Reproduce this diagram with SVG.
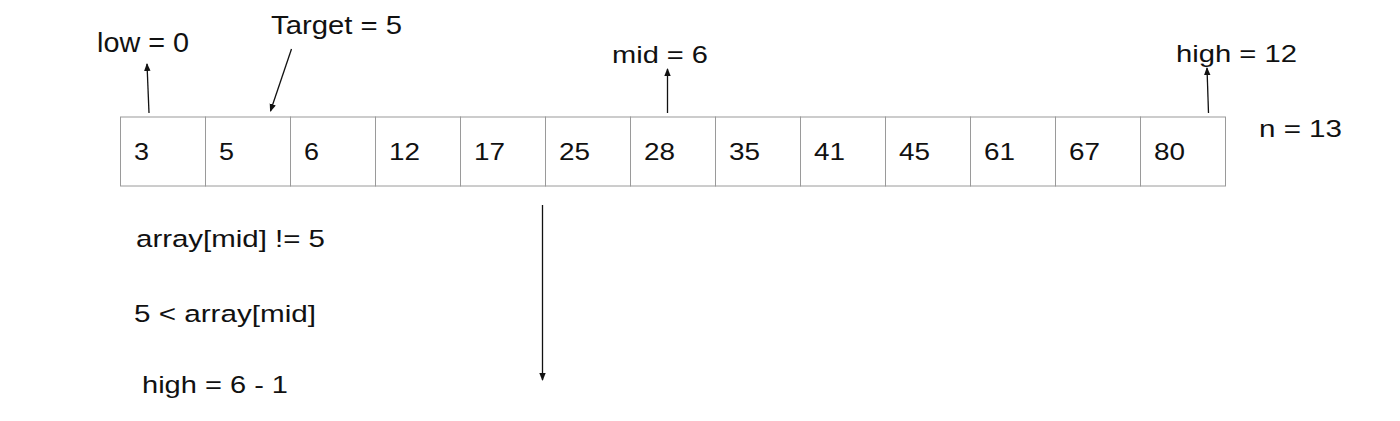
<svg xmlns="http://www.w3.org/2000/svg" width="1400" height="421" viewBox="0 0 1400 421">
<defs>
<style>
text{font-family:"Liberation Sans",Arial,sans-serif;fill:#111}
.cell rect{fill:#fff;stroke:#9a9a9a;stroke-width:1}
.cell text{font-size:24px}
.lbl{font-size:24.5px}
.conn line{stroke:#111;stroke-width:1.3;fill:none}
</style>
<marker id="ah" markerUnits="userSpaceOnUse" markerWidth="8" markerHeight="8" viewBox="0 0 8 8" refX="7" refY="4" orient="auto">
<path d="M0,0.8 L8,4 L0,7.2 Z" fill="#111"/>
</marker>
</defs>
<rect width="1400" height="421" fill="#fff"/>
<g id="array">
<g id="cell0" class="cell"><rect x="120.5" y="117" width="85" height="69"/><text x="134" y="160" textLength="15" lengthAdjust="spacingAndGlyphs">3</text></g>
<g id="cell1" class="cell"><rect x="205.5" y="117" width="85" height="69"/><text x="219" y="160" textLength="15" lengthAdjust="spacingAndGlyphs">5</text></g>
<g id="cell2" class="cell"><rect x="290.5" y="117" width="85" height="69"/><text x="304" y="160" textLength="15" lengthAdjust="spacingAndGlyphs">6</text></g>
<g id="cell3" class="cell"><rect x="375.5" y="117" width="85" height="69"/><text x="389" y="160" textLength="31" lengthAdjust="spacingAndGlyphs">12</text></g>
<g id="cell4" class="cell"><rect x="460.5" y="117" width="85" height="69"/><text x="474" y="160" textLength="31" lengthAdjust="spacingAndGlyphs">17</text></g>
<g id="cell5" class="cell"><rect x="545.5" y="117" width="85" height="69"/><text x="559" y="160" textLength="31" lengthAdjust="spacingAndGlyphs">25</text></g>
<g id="cell6" class="cell"><rect x="630.5" y="117" width="85" height="69"/><text x="644" y="160" textLength="31" lengthAdjust="spacingAndGlyphs">28</text></g>
<g id="cell7" class="cell"><rect x="715.5" y="117" width="85" height="69"/><text x="729" y="160" textLength="31" lengthAdjust="spacingAndGlyphs">35</text></g>
<g id="cell8" class="cell"><rect x="800.5" y="117" width="85" height="69"/><text x="814" y="160" textLength="31" lengthAdjust="spacingAndGlyphs">41</text></g>
<g id="cell9" class="cell"><rect x="885.5" y="117" width="85" height="69"/><text x="899" y="160" textLength="31" lengthAdjust="spacingAndGlyphs">45</text></g>
<g id="cell10" class="cell"><rect x="970.5" y="117" width="85" height="69"/><text x="984" y="160" textLength="31" lengthAdjust="spacingAndGlyphs">61</text></g>
<g id="cell11" class="cell"><rect x="1055.5" y="117" width="85" height="69"/><text x="1069" y="160" textLength="31" lengthAdjust="spacingAndGlyphs">67</text></g>
<g id="cell12" class="cell"><rect x="1140.5" y="117" width="85" height="69"/><text x="1154" y="160" textLength="31" lengthAdjust="spacingAndGlyphs">80</text></g>
</g>
<g id="labels">
<g id="low"><text class="lbl" x="97" y="52" style="font-size:27.5px" textLength="92" lengthAdjust="spacingAndGlyphs">low = 0</text></g>
<g id="target"><text class="lbl" x="271" y="34" style="font-size:25.5px" textLength="131" lengthAdjust="spacingAndGlyphs">Target = 5</text></g>
<g id="mid"><text class="lbl" x="612" y="63" textLength="96" lengthAdjust="spacingAndGlyphs">mid = 6</text></g>
<g id="high"><text class="lbl" x="1176" y="62" textLength="121" lengthAdjust="spacingAndGlyphs">high = 12</text></g>
<g id="n"><text class="lbl" x="1259" y="137" style="font-size:23.5px" textLength="83" lengthAdjust="spacingAndGlyphs">n = 13</text></g>
<g id="cond1"><text class="lbl" x="136" y="247" textLength="189" lengthAdjust="spacingAndGlyphs">array[mid] != 5</text></g>
<g id="cond2"><text class="lbl" x="134" y="322" textLength="182" lengthAdjust="spacingAndGlyphs">5 &lt; array[mid]</text></g>
<g id="update"><text class="lbl" x="142" y="393" textLength="146" lengthAdjust="spacingAndGlyphs">high = 6 - 1</text></g>
</g>
<g id="connectors" class="conn">
<line x1="149" y1="113" x2="147" y2="64" marker-end="url(#ah)"/>
<line x1="291.5" y1="49" x2="270.5" y2="111" marker-end="url(#ah)"/>
<line x1="667.5" y1="113" x2="667.5" y2="69" marker-end="url(#ah)"/>
<line x1="1208.5" y1="113" x2="1207" y2="68" marker-end="url(#ah)"/>
<line x1="542.5" y1="205" x2="542.5" y2="380" marker-end="url(#ah)"/>
</g>
</svg>
